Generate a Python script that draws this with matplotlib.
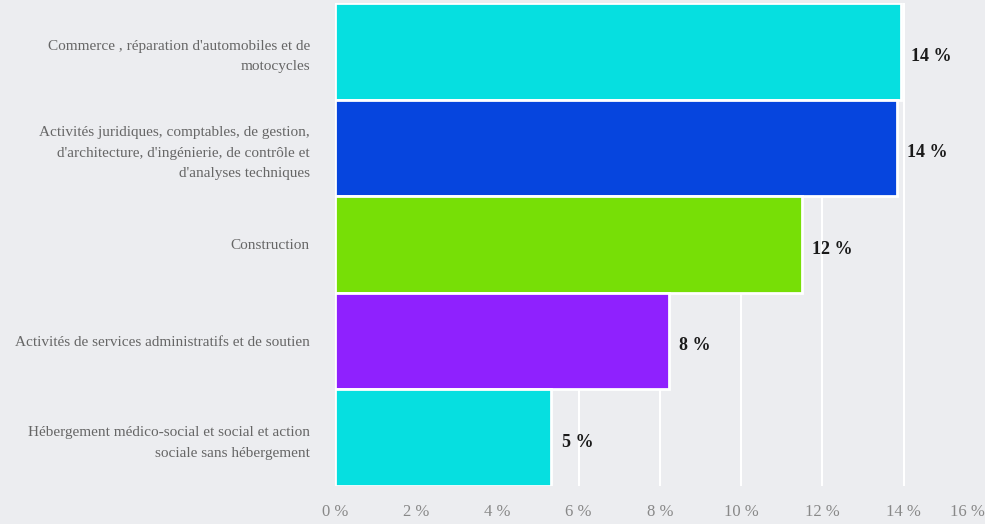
import matplotlib.pyplot as plt
import numpy as np

categories = [
    "Commerce , réparation d'automobiles et de\nmotocycles",
    "Activités juridiques, comptables, de gestion,\nd'architecture, d'ingénierie, de contrôle et\nd'analyses techniques",
    "Construction",
    "Activités de services administratifs et de soutien",
    "Hébergement médico-social et social et action\nsociale sans hébergement",
]
values = [13.94, 13.84, 11.5, 8.22, 5.33]
value_labels = ["14 %", "14 %", "12 %", "8 %", "5 %"]
colors = ["#06dfe0", "#0645de", "#77df06", "#8f21fe", "#06dfe0"]
xticks = [0, 2, 4, 6, 8, 10, 12, 14, 16]

plt.rcParams['font.family'] = ['Liberation Serif', 'DejaVu Serif']
bg = "#ecedf0"

fig = plt.figure(figsize=(9.85, 5.24), dpi=100, facecolor=bg)
ax = fig.add_axes([0.340, 0.0725, 0.660, 0.922], facecolor=bg)

y = np.arange(len(categories))
ax.barh(y, values, height=1.0, color=colors, edgecolor="white", linewidth=2, zorder=3)

for yi, v, lab in zip(y, values, value_labels):
    ax.text(v + 0.25, yi + 0.05, lab, va="center", ha="left", fontsize=13,
            fontweight="bold", color="#1a1a1a", zorder=4)

ax.set_ylim(len(categories) - 0.5, -0.5)
ax.set_xlim(0, 16)
ax.set_yticks(y)
ax.set_yticklabels(categories, fontsize=11, color="#666666", linespacing=1.75)
ax.set_xticks(xticks)
ax.set_xticklabels([f"{t} %" for t in xticks], fontsize=12, color="#888888")
ax.get_xticklabels()[-1].set_horizontalalignment("right")
ax.tick_params(axis="both", length=0)
ax.tick_params(axis="y", pad=18)
ax.tick_params(axis="x", pad=13)
ax.grid(axis="x", color="white", linewidth=1.5, zorder=0)
ax.xaxis.get_gridlines()[-1].set_visible(False)
for s in ax.spines.values():
    s.set_visible(False)

fig.savefig("out.png", dpi=100, facecolor=bg)
